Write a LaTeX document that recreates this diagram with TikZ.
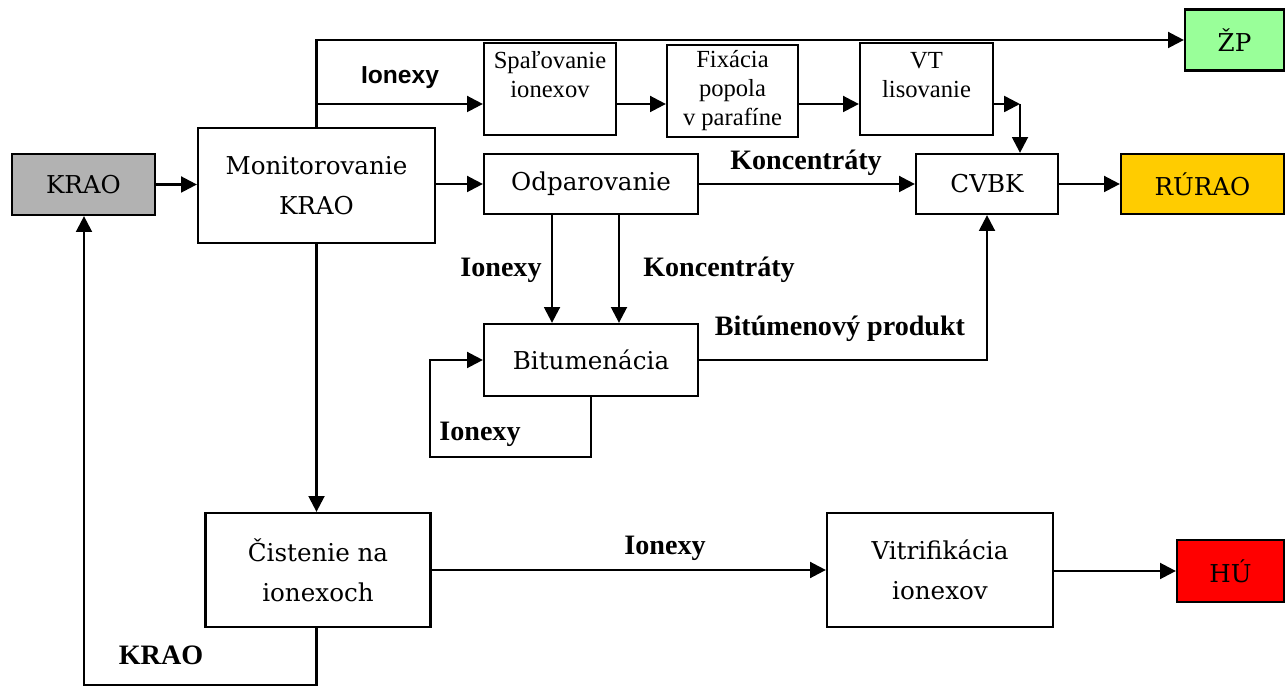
\documentclass[tikz,border=0pt]{standalone}
\usepackage{fontspec}
\setmainfont{Liberation Serif}
\newfontfamily\boxfont{DejaVu Serif}
\newfontfamily\arialfont{Liberation Sans}
\usetikzlibrary{arrows.meta}
\definecolor{kraogray}{RGB}{178,178,178}
\definecolor{zpgreen}{RGB}{153,255,153}
\definecolor{ruraoyellow}{RGB}{255,204,0}
\definecolor{hured}{RGB}{255,0,0}
\begin{document}
\begin{tikzpicture}[
    x=0.02cm, y=-0.02cm,
    box/.style={draw, line width=1.3pt, fill=white, inner sep=0pt, align=center, font=\boxfont\fontsize{14}{23}\selectfont},
    smallbox/.style={draw, line width=1.3pt, inner sep=0pt, align=center, font=\fontsize{14}{16.5}\selectfont},
    flow/.style={font=\bfseries\fontsize{16}{18}\selectfont, inner sep=0pt},
    arrow/.style={-{Triangle[length=9pt,width=9pt]}, line width=1.4pt}
]
\useasboundingbox (0,0) rectangle (1288,688);

% Input and monitoring
\node[box, fill=kraogray, minimum width=2.86cm, minimum height=1.22cm] (krao) at (83.5,184.5) {KRAO};
\node[box, minimum width=4.74cm, minimum height=2.3cm] (monit) at (316.5,185.5) {Monitorovanie\\KRAO};

% Upper line: ionexy -> incineration
\node[smallbox, minimum width=2.64cm, minimum height=1.84cm] (spal) at (550,89) {Spaľovanie\\ionexov\\\phantom{x}};
\node[smallbox, minimum width=2.62cm, minimum height=1.84cm] (fix) at (732.5,91) {Fixácia\\popola\\v parafíne};
\node[smallbox, minimum width=2.66cm, minimum height=1.84cm] (vt) at (926.5,89) {VT\\lisovanie\\\phantom{x}};
\node[box, fill=zpgreen, minimum width=1.98cm, minimum height=1.22cm] (zp) at (1234.5,40) {ŽP};

% Middle line: evaporation, bitumen, CVBK
\node[box, minimum width=4.28cm, minimum height=1.2cm] (odp) at (591,184) {Odparovanie};
\node[box, minimum width=2.84cm, minimum height=1.2cm] (cvbk) at (987,184) {CVBK};
\node[box, fill=ruraoyellow, minimum width=3.26cm, minimum height=1.2cm] (rurao) at (1202.5,184) {RÚRAO};
\node[box, minimum width=4.28cm, minimum height=1.44cm] (bitum) at (591,360) {Bitumenácia};

% Lower line: ion exchange, vitrification
\node[box, minimum width=4.5cm, minimum height=2.28cm] (cist) at (318,570) {Čistenie na\\ionexoch};
\node[box, minimum width=4.52cm, minimum height=2.28cm] (vitr) at (940,570) {Vitrifikácia\\ionexov};
\node[box, fill=hured, minimum width=2.14cm, minimum height=1.24cm] (hu) at (1230.5,571) {HÚ};

% Bend points
\coordinate (ionrow) at (316.5,104);
\coordinate (vtout) at (1020,104);
\coordinate (bitloop) at (430,457);
\coordinate (kraoloop) at (84,685);

% Edge labels
\node[font=\arialfont\bfseries\fontsize{14}{16}\selectfont, inner sep=0pt] (lion1) at (400,78) {Ionexy};
\node[flow] (lkonc1) at (806,163) {Koncentráty};
\node[flow] (lion2) at (501,270) {Ionexy};
\node[flow] (lkonc2) at (719,270) {Koncentráty};
\node[flow] (lbit) at (840,329) {Bitúmenový produkt};
\node[flow] (lion3) at (480,434) {Ionexy};
\node[flow] (lion4) at (665,548) {Ionexy};
\node[flow] (lkrao) at (161,655) {KRAO};

% Edges
\draw[arrow] (krao.east) -- (krao.east -| monit.west);
\draw[arrow] (monit.north) |- (zp.west);
\draw[arrow] (ionrow) -- (ionrow -| spal.west);
\draw[arrow] (spal.east |- ionrow) -- (fix.west |- ionrow);
\draw[arrow] (fix.east |- ionrow) -- (vt.west |- ionrow);
\draw[arrow] (vt.east |- ionrow) -- (vtout);
\draw[arrow] (vtout) -- (vtout |- cvbk.north);

\draw[arrow] (monit.east |- odp.west) -- (odp.west);
\draw[arrow] (odp.east) -- (cvbk.west);
\draw[arrow] (cvbk.east) -- (rurao.west);

\draw[arrow] ([xshift=-0.78cm]odp.south) -- ([xshift=-0.78cm]bitum.north);
\draw[arrow] ([xshift=0.56cm]odp.south) -- ([xshift=0.56cm]bitum.north);
\draw[arrow] (bitum.east) -| (cvbk.south);
\draw[arrow] (bitum.south) |- (bitloop) |- (bitum.west);

\draw[arrow] (monit.south) -- (monit.south |- cist.north);
\draw[arrow] (cist.east) -- (cist.east -| vitr.west);
\draw[arrow] (vitr.east |- hu.west) -- (hu.west);
\draw[arrow] (monit.south |- cist.south) |- (kraoloop) -- (kraoloop |- krao.south);

\end{tikzpicture}
\end{document}
